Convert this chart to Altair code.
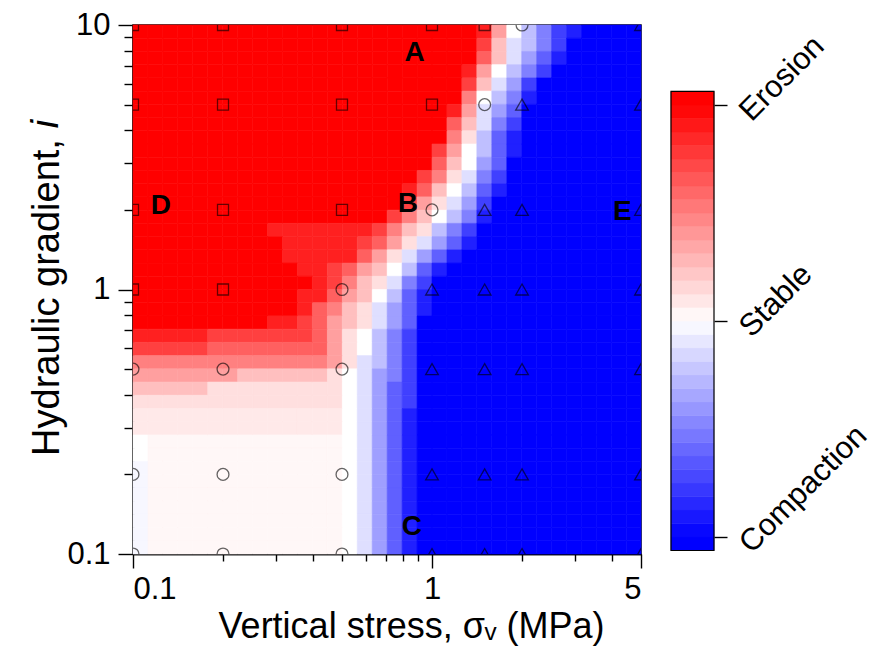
import altair as alt
import pandas as pd

# ---------------- data ----------------
SIGMA_V = [0.1, 0.2, 0.5, 1, 1.5, 2, 5]          # test vertical stresses (MPa)
GRADIENT_I = [10, 5, 2, 1, 0.5, 0.2, 0.1]         # hydraulic gradients (rows, top to bottom)
STATE_ROWS = [                                    # S = erosion, C = stable, T = compaction
    "SSSSSCT",
    "SSSSCTT",
    "SSSCTTT",
    "SSCTTTT",
    "CCCTTTT",
    "CCCTTTT",
    "CCCTTTT",
]
STATE_NAMES = {"S": "Erosion", "C": "Stable", "T": "Compaction"}

LABEL_TEXT = ["A", "B", "C", "D", "E"]
LABEL_X = [0.875, 0.830, 0.856, 0.124, 4.33]
LABEL_Y = [7.84, 2.10, 0.127, 2.06, 1.96]

X_MAJOR = [0.1, 1, 5]
X_MINOR = [0.2, 0.3, 0.4, 0.5, 0.6, 0.7, 0.8, 0.9, 2, 3, 4]
Y_MAJOR = [0.1, 1, 10]
Y_MINOR = [0.2, 0.3, 0.4, 0.5, 0.6, 0.7, 0.8, 0.9, 2, 3, 4, 5, 6, 7, 8, 9]

# contour field on a 0.05-decade grid
# (34 columns from sigma=0.1 to 5, 40 rows from i=10 down to 0.1)
# level: 0 = compaction (blue), 8 = stable (white), g = 16 = erosion (red)
FIELD_ROWS = [
    "g" * 23 + "fb864210000",
    "g" * 23 + "ea764200000",
    "g" * 23 + "da753100000",
    "g" * 22 + "fb8642000000",
    "g" * 22 + "ea7520000000",
    "g" * 22 + "c86410000000",
    "g" * 21 + "fb753" + "0" * 8,
    "g" * 21 + "da742" + "0" * 8,
    "g" * 21 + "c9631" + "0" * 8,
    "g" * 20 + "eb8631" + "0" * 8,
    "g" * 20 + "da853" + "0" * 9,
    "g" * 19 + "ec9742" + "0" * 9,
    "g" * 18 + "fda8631" + "0" * 9,
    "g" * 18 + "eb9752" + "0" * 10,
    "g" * 17 + "eca8641" + "0" * 10,
    "g" * 9 + "fffffff" + "eca9642" + "0" * 11,
    "g" * 10 + "fffff" + "edb97531" + "0" * 11,
    "g" * 10 + "fffff" + "db97531" + "0" * 12,
    "g" * 11 + "ff" + "edba8631" + "0" * 13,
    "g" * 12 + "f" + "eca9742" + "0" * 14,
    "g" * 11 + "ff" + "dba8631" + "0" * 14,
    "g" * 11 + "fdca9" + "7531" + "0" * 14,
    "g" * 9 + "ffe" + "dba9" + "753" + "0" * 15,
    "fffff" + "eeeeeee" + "db98" + "642" + "0" * 15,
    "eeeee" + "dddddddd" + "b98" + "642" + "0" * 15,
    "ccccccccccccc" + "b9" + "7642" + "0" * 15,
    "bbbbbbb" + "aaaaaa" + "98" + "7542" + "0" * 15,
    "aaaaa" + "99999999" + "9" + "8" + "7532" + "0" * 15,
    "9999999999999" + "9" + "8" + "7532" + "0" * 15,
    "qqqqqqqqqqqqqq" + "8" + "7531" + "0" * 15,
    "qqqqqqqqqqqqqq" + "8" + "7531" + "0" * 15,
    "8" + "ppppppppppppp" + "8" + "7531" + "0" * 15,
    "8" + "ppppppppppppp" + "8" + "7531" + "0" * 15,
    "l" + "ppppppppppppp" + "8" + "7531" + "0" * 15,
    "l" + "ppppppppppppp" + "8" + "7531" + "0" * 15,
    "l" + "ppppppppppppp" + "8" + "7531" + "0" * 15,
    "l" + "ppppppppppppp" + "8" + "7531" + "0" * 15,
    "l" + "ppppppppppppp" + "8" + "7531" + "0" * 15,
    "l" + "ppppppppppppp" + "8" + "7531" + "0" * 15,
    "l" + "ppppppppppppp" + "8" + "7531" + "0" * 15,
]
LEVEL_OF = {str(d): d for d in range(10)}
LEVEL_OF.update({"a": 10, "b": 11, "c": 12, "d": 13, "e": 14, "f": 15, "g": 16,
                 "q": 8.7, "p": 8.25, "l": 7.75})

COLORBAR_TICKS = [0, 8, 16]

# ---------------- tables ----------------
cells = []
for r, row in enumerate(FIELD_ROWS):
    assert len(row) == 34, (r, len(row))
    for c, ch in enumerate(row):
        cells.append({
            "x0": 10 ** (-1 + 0.05 * c),
            "x1": min(10 ** (-1 + 0.05 * (c + 1)), 5.0),
            "y0": 10 ** (1 - 0.05 * (r + 1)),
            "y1": 10 ** (1 - 0.05 * r),
            "level": LEVEL_OF[ch],
        })
heat_df = pd.DataFrame(cells)

pts = []
for r, row in enumerate(STATE_ROWS):
    for c, ch in enumerate(row):
        pts.append({"sigma": SIGMA_V[c], "i": GRADIENT_I[r], "state": STATE_NAMES[ch]})
pts_df = pd.DataFrame(pts)

lab_df = pd.DataFrame({"t": LABEL_TEXT, "x": LABEL_X, "y": LABEL_Y})

bands = []
for k in range(34):
    lo = -0.5 + 0.5 * k
    mid = min(max(lo + 0.25, 0), 16)
    bands.append({"c0": 0, "c1": 1, "lo": lo, "hi": lo + 0.5, "mid": mid})
band_df = pd.DataFrame(bands)
frame_df = pd.DataFrame({"c0": [0], "c1": [1], "lo": [-0.5], "hi": [16.5]})

# ---------------- scales ----------------
FONT = "Liberation Sans"
XTITLE_SIZE = 36
YTITLE_SIZE = 38
xs = alt.Scale(type="log", domain=[0.1, 5], nice=False)
ys = alt.Scale(type="log", domain=[0.1, 10], nice=False)
cscale = alt.Scale(domain=[0, 8, 16], range=["#0000ff", "#ffffff", "#ff0000"],
                   interpolate="rgb", clamp=True)

W, H = 508, 529

heat = alt.Chart(heat_df).mark_rect(strokeWidth=0.6).encode(
    x=alt.X("x0:Q", scale=xs, title=None,
            axis=alt.Axis(orient="bottom", values=X_MINOR, labels=False, tickSize=7,
                          grid=False, title=None)),
    x2="x1:Q",
    y=alt.Y("y0:Q", scale=ys, title=None,
            axis=alt.Axis(orient="left", values=Y_MINOR, labels=False, tickSize=9,
                          grid=False, title=None)),
    y2="y1:Q",
    color=alt.Color("level:Q", scale=cscale, legend=None),
    stroke=alt.Stroke("level:Q", scale=cscale, legend=None),
)

points = alt.Chart(pts_df).mark_point(filled=False, clip=True, strokeWidth=1.3,
                                      opacity=0.6, color="black").encode(
    x=alt.X("sigma:Q", scale=xs,
            axis=alt.Axis(orient="bottom", values=X_MAJOR, tickSize=14, grid=False,
                          labelExpr="format(datum.value, '~g')", labelOverlap=False,
                          labelPadding=6, title="Vertical stress, σᵥ (MPa)",
                          titleFontSize=XTITLE_SIZE, titleX=278, titlePadding=5)),
    y=alt.Y("i:Q", scale=ys,
            axis=alt.Axis(orient="left", values=Y_MAJOR, tickSize=15, grid=False,
                          labelExpr="format(datum.value, '~g')", labelOverlap=False,
                          labelPadding=8, title="Hydraulic gradient,",
                          titleFontSize=YTITLE_SIZE, titleY=272, titlePadding=0)),
    shape=alt.Shape("state:N", legend=None,
                    scale=alt.Scale(domain=["Erosion", "Stable", "Compaction"],
                                    range=["square", "circle", "triangle-up"])),
    size=alt.Size("state:N", legend=None,
                  scale=alt.Scale(domain=["Erosion", "Stable", "Compaction"],
                                  range=[121, 160, 190])),
)

labels = alt.Chart(lab_df).mark_text(font=FONT, fontSize=28, fontWeight="bold",
                                     color="black", align="center",
                                     baseline="middle").encode(
    x=alt.X("x:Q", scale=xs, axis=None),
    y=alt.Y("y:Q", scale=ys, axis=None),
    text="t:N",
)

# italic "i" that ends the y-axis title
title_i = alt.Chart(pd.DataFrame({"t": ["i"]})).mark_text(
    font=FONT, fontSize=YTITLE_SIZE, fontStyle="italic", angle=270,
    align="center", baseline="middle", color="black").encode(
    x=alt.value(-86), y=alt.value(99), text="t:N")

main = alt.layer(heat, points, labels, title_i).resolve_axis(
    x="independent", y="independent").properties(width=W, height=H)

cy = alt.Scale(domain=[-0.63, 18.96], nice=False, zero=False)
cbar_axis = alt.Axis(orient="right", values=COLORBAR_TICKS, domain=False, grid=False,
                     labelExpr="datum.value == 16 ? 'Erosion' : (datum.value == 8 ? 'Stable' : 'Compaction')",
                     labelAngle=-45, labelAlign="left", labelBaseline="top",
                     labelPadding=7, tickSize=13, labelOverlap=False, title=None)
cbar_rect = alt.Chart(band_df).mark_rect(strokeWidth=0.5).encode(
    x=alt.X("c0:Q", scale=alt.Scale(domain=[0, 1]), axis=None),
    x2="c1:Q",
    y=alt.Y("lo:Q", scale=cy, axis=cbar_axis),
    y2="hi:Q",
    color=alt.Color("mid:Q", scale=cscale, legend=None),
    stroke=alt.Stroke("mid:Q", scale=cscale, legend=None),
)
cbar_frame = alt.Chart(frame_df).mark_rect(fillOpacity=0, stroke="black",
                                           strokeWidth=1.2).encode(
    x=alt.X("c0:Q", scale=alt.Scale(domain=[0, 1]), axis=None),
    x2="c1:Q",
    y=alt.Y("lo:Q", scale=cy, axis=cbar_axis),
    y2="hi:Q",
)
cbar = alt.layer(cbar_rect, cbar_frame).properties(
    width=43, height=H, view=alt.ViewBackground(stroke="transparent"))

chart = alt.hconcat(main, cbar, spacing=30, bounds="flush").properties(
    padding={"left": 19, "top": 0, "right": 5, "bottom": 5}
).configure_view(stroke="black", strokeWidth=1.5).configure_axis(
    labelFont=FONT, titleFont=FONT, labelFontSize=31,
    titleFontWeight="normal", labelColor="black", titleColor="black",
    tickColor="black", domainColor="black", tickWidth=1.4, domainWidth=1.5,
)

chart.save("out.html", embed_options={"renderer": "svg", "actions": False})
